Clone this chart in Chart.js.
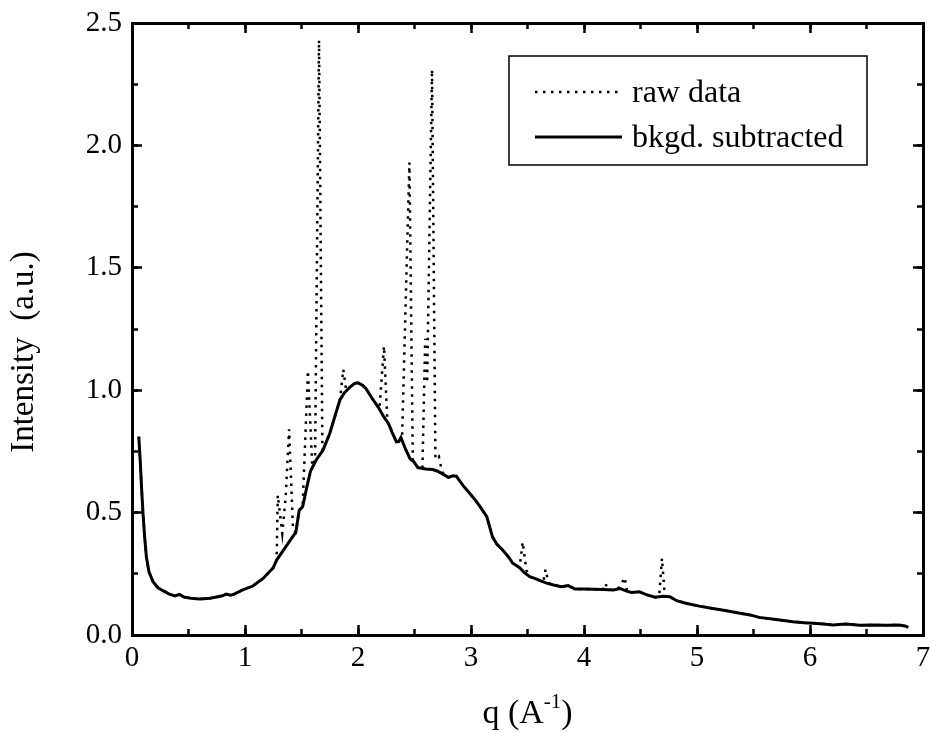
<!DOCTYPE html>
<html>
<head>
<meta charset="utf-8">
<script src="https://cdn.jsdelivr.net/npm/chart.js@4.4.1/dist/chart.umd.min.js"></script>
<style>
  html, body { margin: 0; padding: 0; background: #fff; }
  #wrap { width: 932px; height: 732px; position: relative; }
</style>
</head>
<body>
<div id="wrap"><canvas id="chart"></canvas></div>
<script>
// background-subtracted curve (q in 1/A, intensity a.u.)
const qSub = [0.06,0.074,0.086,0.097,0.112,0.127,0.15,0.186,0.23,0.274,
  0.33,0.38,0.42,0.46,0.52,0.60,0.69,0.76,0.80,0.835,
  0.87,0.90,0.98,1.07,1.16,1.25,1.28,1.36,1.45,1.48,
  1.51,1.545,1.58,1.63,1.69,1.75,1.80,1.84,1.88,1.93,
  1.97,2.00,2.04,2.07,2.12,2.18,2.23,2.27,2.30,2.34,
  2.36,2.38,2.42,2.46,2.49,2.53,2.60,2.66,2.70,2.74,
  2.80,2.84,2.87,2.93,2.99,3.04,3.08,3.14,3.19,3.23,
  3.28,3.33,3.37,3.43,3.47,3.52,3.57,3.61,3.67,3.73,
  3.80,3.86,3.92,4.00,4.08,4.17,4.26,4.32,4.37,4.42,
  4.49,4.55,4.63,4.70,4.76,4.82,4.90,5.02,5.14,5.26,
  5.38,5.47,5.55,5.70,5.85,5.95,6.03,6.12,6.20,6.32,
  6.44,6.55,6.68,6.79,6.84,6.87];
const iSub = [0.81,0.70,0.59,0.50,0.40,0.32,0.258,0.218,0.193,0.181,
  0.167,0.16,0.166,0.155,0.15,0.147,0.15,0.156,0.16,0.167,
  0.163,0.166,0.184,0.20,0.231,0.275,0.306,0.36,0.42,0.51,
  0.524,0.60,0.67,0.715,0.755,0.823,0.90,0.96,0.99,1.013,
  1.028,1.03,1.02,1.007,0.97,0.93,0.89,0.864,0.83,0.789,
  0.79,0.807,0.76,0.72,0.71,0.684,0.678,0.676,0.67,0.66,
  0.644,0.65,0.649,0.61,0.578,0.55,0.524,0.483,0.401,0.37,
  0.347,0.32,0.293,0.275,0.256,0.238,0.23,0.222,0.212,0.204,
  0.197,0.202,0.188,0.188,0.187,0.186,0.184,0.19,0.18,0.174,
  0.177,0.165,0.154,0.158,0.156,0.14,0.13,0.118,0.108,0.099,
  0.089,0.082,0.072,0.063,0.054,0.05,0.048,0.045,0.041,0.045,
  0.04,0.041,0.04,0.041,0.037,0.031];

// raw data (same baseline, plus the sharp Bragg peaks)
const qRaw = [0.06,0.074,0.086,0.097,0.112,0.127,0.15,0.186,0.23,0.274,
  0.33,0.38,0.42,0.46,0.52,0.60,0.69,0.76,0.835,0.90,
  0.98,1.07,1.16,1.25,1.28,1.29,1.33,1.36,1.39,1.425,
  1.45,1.48,1.51,1.557,1.595,1.62,1.655,1.685,1.75,1.80,
  1.84,1.87,1.895,1.93,1.97,2.00,2.04,2.07,2.12,2.19,
  2.23,2.26,2.30,2.34,2.36,2.39,2.455,2.485,2.53,2.57,
  2.595,2.612,2.655,2.685,2.715,2.745,2.80,2.84,2.87,2.93,
  2.99,3.04,3.08,3.14,3.19,3.23,3.28,3.33,3.37,3.43,
  3.457,3.49,3.52,3.57,3.61,3.64,3.66,3.685,3.73,3.80,
  3.86,3.92,4.00,4.08,4.17,4.19,4.21,4.26,4.30,4.32,
  4.36,4.38,4.42,4.49,4.55,4.63,4.665,4.69,4.715,4.76,
  4.82,4.90,5.02,5.14,5.26,5.38,5.47,5.55,5.70,5.85,
  5.95,6.03,6.12,6.20,6.32,6.44,6.55,6.68,6.79,6.84,6.87];
const iRaw = [0.81,0.70,0.59,0.50,0.40,0.32,0.258,0.218,0.193,0.181,
  0.167,0.16,0.166,0.155,0.15,0.147,0.15,0.156,0.167,0.166,
  0.184,0.20,0.231,0.275,0.306,0.571,0.415,0.565,0.84,0.43,
  0.42,0.51,0.524,1.08,0.69,0.72,2.43,0.75,0.823,0.90,
  0.96,1.085,1.0,1.013,1.028,1.03,1.02,1.007,0.97,0.925,
  1.18,0.87,0.83,0.789,0.79,0.805,1.93,0.715,0.684,0.68,
  1.21,1.03,2.31,0.72,0.73,0.665,0.644,0.65,0.649,0.61,
  0.578,0.55,0.524,0.483,0.401,0.37,0.347,0.32,0.293,0.275,
  0.38,0.265,0.238,0.23,0.222,0.218,0.268,0.213,0.204,0.197,
  0.202,0.188,0.188,0.187,0.186,0.211,0.186,0.184,0.19,0.198,
  0.235,0.18,0.174,0.177,0.165,0.154,0.157,0.313,0.158,0.156,
  0.14,0.13,0.118,0.108,0.099,0.089,0.082,0.072,0.063,0.054,
  0.05,0.048,0.045,0.041,0.045,0.04,0.041,0.04,0.041,0.037,0.031];

const xRange = [0, 7];
const yRange = [0, 2.5];

const SERIF = "'Liberation Serif', 'Times New Roman', serif";

function toPoints(xs, ys) {
  return xs.map((x, i) => ({ x: x, y: ys[i] }));
}

// one frame axis; size forces the box width/height so the plot area lands where it should
function frameAxis(position, range, step, tickLen, weight, size, labels) {
  const horiz = position === 'top' || position === 'bottom';
  return {
    type: 'linear', position: position, weight: weight,
    min: range[0], max: range[1],
    border: { display: tickLen <= -8, color: '#000', width: 3 },
    grid: { drawOnChartArea: false, drawTicks: true, tickLength: tickLen, tickWidth: 2.5, tickColor: '#000' },
    ticks: {
      display: !!labels, stepSize: step, color: '#000',
      font: { family: SERIF, size: 29 },
      padding: horiz ? 16 : 20,
      maxRotation: 0, autoSkip: false,
      callback: labels || undefined
    },
    afterFit: function(scale) {
      if (horiz) scale.height = size; else scale.width = size;
      // labels may stick out past the frame; don't let that shrink the plot
      scale.paddingLeft = scale.paddingRight = scale.paddingTop = scale.paddingBottom = 0;
    }
  };
}

const titlesAndLegend = {
  id: 'titlesAndLegend',
  afterDraw(chart) {
    const ctx = chart.ctx;
    const area = chart.chartArea;
    ctx.save();
    ctx.fillStyle = '#000';

    // y title
    ctx.save();
    ctx.translate(24, (area.top + area.bottom) / 2 + 23);
    ctx.rotate(-Math.PI / 2);
    ctx.font = '33px ' + SERIF;
    ctx.textAlign = 'center';
    ctx.textBaseline = 'middle';
    ctx.fillText('Intensity  (a.u.)', 0, 0);
    ctx.restore();

    // x title with superscript
    const big = '34px ' + SERIF, small = '21px ' + SERIF;
    const p1 = 'q (A', sup = '-1', p2 = ')';
    ctx.textBaseline = 'alphabetic';
    ctx.textAlign = 'left';
    ctx.font = big; const w1 = ctx.measureText(p1).width, w3 = ctx.measureText(p2).width;
    ctx.font = small; const w2 = ctx.measureText(sup).width;
    let x = (area.left + area.right) / 2 - (w1 + w2 + w3) / 2;
    const base = chart.height - 9;
    ctx.font = big; ctx.fillText(p1, x, base); x += w1;
    ctx.font = small; ctx.fillText(sup, x, base - 15); x += w2;
    ctx.font = big; ctx.fillText(p2, x, base);

    // legend box
    const box = { left: 509, top: 56, width: 358, height: 109 };
    const rows = [92, 137];
    ctx.fillStyle = '#fff';
    ctx.fillRect(box.left, box.top, box.width, box.height);
    ctx.strokeStyle = '#000';
    ctx.lineWidth = 1.5;
    ctx.setLineDash([]);
    ctx.strokeRect(box.left, box.top, box.width, box.height);
    chart.data.datasets.forEach((ds, i) => {
      ctx.beginPath();
      ctx.setLineDash(ds.borderDash || []);
      ctx.lineWidth = ds.borderWidth;
      ctx.moveTo(535, rows[i]);
      ctx.lineTo(622, rows[i]);
      ctx.stroke();
      ctx.setLineDash([]);
      ctx.fillStyle = '#000';
      ctx.font = '32px ' + SERIF;
      ctx.textBaseline = 'middle';
      ctx.fillText(ds.label, 632, rows[i] + 2);
    });
    ctx.restore();
  }
};

new Chart(document.getElementById('chart'), {
  type: 'line',
  data: {
    datasets: [
      { label: 'raw data', data: toPoints(qRaw, iRaw), borderColor: '#000', borderWidth: 2.5,
        borderDash: [2.5, 5.5], pointRadius: 0, tension: 0, fill: false, order: 2 },
      { label: 'bkgd. subtracted', data: toPoints(qSub, iSub), borderColor: '#000', borderWidth: 3,
        pointRadius: 0, tension: 0, fill: false, order: 1 }
    ]
  },
  options: {
    responsive: true,
    maintainAspectRatio: false,
    animation: false,
    events: [],
    layout: { padding: { top: 23, right: 9, bottom: 0, left: 0 } },
    plugins: { legend: { display: false }, tooltip: { enabled: false } },
    scales: {
      x: frameAxis('bottom', xRange, 1, -10, 2, 97, v => String(v)),
      xMinor: frameAxis('bottom', xRange, 0.5, -6, 1, 0),
      xTop: frameAxis('top', xRange, 1, -10, 2, 0),
      xTopMinor: frameAxis('top', xRange, 0.5, -6, 1, 0),
      y: frameAxis('left', yRange, 0.5, -10, 2, 132, v => v.toFixed(1)),
      yMinor: frameAxis('left', yRange, 0.25, -6, 1, 0),
      yRight: frameAxis('right', yRange, 0.5, -10, 2, 0),
      yRightMinor: frameAxis('right', yRange, 0.25, -6, 1, 0)
    }
  },
  plugins: [titlesAndLegend]
});
</script>
</body>
</html>
